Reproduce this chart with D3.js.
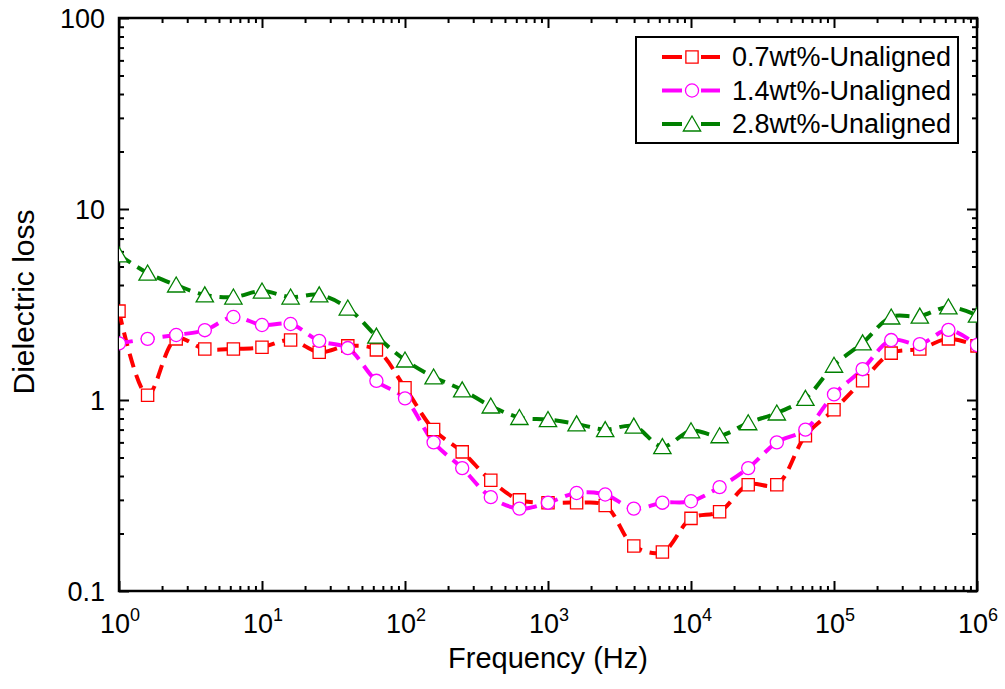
<!DOCTYPE html>
<html><head><meta charset="utf-8">
<script src="https://cdn.jsdelivr.net/npm/d3@7"></script>
<style>body{margin:0;background:#fff}svg{display:block}text{font-family:"Liberation Sans",Arial,sans-serif;fill:#000}</style>
</head><body>
<svg id="c" width="1005" height="689"></svg>
<script>
const freqExp = d3.range(0, 31).map(i => i * 0.2); // log10 of frequency
const seriesNames = ["0.7wt%-Unaligned", "1.4wt%-Unaligned", "2.8wt%-Unaligned"];
const red = [2.92,1.06,2.09,1.85,1.85,1.89,2.06,1.78,1.92,1.83,1.16,0.70,0.535,0.38,0.30,0.29,0.29,0.28,0.172,0.16,0.24,0.26,0.36,0.36,0.65,0.89,1.26,1.76,1.85,2.09,1.92];
const magenta = [1.98,2.09,2.19,2.32,2.72,2.47,2.50,2.04,1.87,1.26,1.02,0.60,0.44,0.31,0.27,0.29,0.326,0.32,0.27,0.29,0.295,0.35,0.44,0.60,0.70,1.07,1.45,2.06,1.96,2.33,1.94];
const green = [5.75,4.62,4.0,3.55,3.46,3.72,3.46,3.55,3.03,2.16,1.62,1.32,1.13,0.93,0.81,0.79,0.75,0.70,0.73,0.57,0.69,0.65,0.76,0.855,1.02,1.52,1.99,2.72,2.75,3.07,2.78];
const colors = ["#ff0000", "#ff00ff", "#008000"];
const symbols = ["square", "circle", "triangle"];
const xTickExps = [0,1,2,3,4,5,6];
const yTicks = [0.1, 1, 10, 100];
const xLabel = "Frequency (Hz)";
const yLabel = "Dielectric loss";

const svg = d3.select("#c");
const L = 119, R = 977, T = 18, B = 591;
const x = d3.scaleLog().domain([1, 1e6]).range([L, R]);
const y = d3.scaleLog().domain([0.1, 100]).range([B, T]);

// minor ticks
const xMinor = [], yMinor = [];
for (let e = 0; e < 6; e++) for (let k = 2; k <= 9; k++) xMinor.push(k * Math.pow(10, e));
for (let e = -1; e < 2; e++) for (let k = 2; k <= 9; k++) yMinor.push(k * Math.pow(10, e));
const xMajor = xTickExps.map(e => Math.pow(10, e));

const g = svg.append("g");
g.append("g").attr("transform", `translate(0,${B})`).call(d3.axisBottom(x).tickValues(xMajor).tickSize(-10).tickFormat(""));
g.append("g").attr("transform", `translate(0,${B})`).call(d3.axisBottom(x).tickValues(xMinor).tickSize(-5).tickFormat(""));
g.append("g").attr("transform", `translate(0,${T})`).call(d3.axisTop(x).tickValues(xMajor).tickSize(-10).tickFormat(""));
g.append("g").attr("transform", `translate(0,${T})`).call(d3.axisTop(x).tickValues(xMinor).tickSize(-5).tickFormat(""));
g.append("g").attr("transform", `translate(${L},0)`).call(d3.axisLeft(y).tickValues(yTicks).tickSize(-10).tickFormat(""));
g.append("g").attr("transform", `translate(${L},0)`).call(d3.axisLeft(y).tickValues(yMinor).tickSize(-5).tickFormat(""));
g.append("g").attr("transform", `translate(${R},0)`).call(d3.axisRight(y).tickValues(yTicks).tickSize(-10).tickFormat(""));
g.append("g").attr("transform", `translate(${R},0)`).call(d3.axisRight(y).tickValues(yMinor).tickSize(-5).tickFormat(""));
g.selectAll(".domain").remove();
g.selectAll(".tick line").attr("stroke", "#000").attr("stroke-width", 2);

// frame
svg.append("rect").attr("x", L).attr("y", T).attr("width", R - L).attr("height", B - T)
  .attr("fill", "none").attr("stroke", "#000").attr("stroke-width", 2.5);

// tick labels
xTickExps.forEach(e => {
  const t = svg.append("text").attr("x", x(Math.pow(10, e)) + 1).attr("y", 633).attr("text-anchor", "middle").attr("font-size", 27);
  t.append("tspan").text("10");
  t.append("tspan").attr("dy", -12).attr("font-size", 18).text(e);
});
yTicks.forEach(v => {
  svg.append("text").attr("x", 105).attr("y", y(v) + 10).attr("text-anchor", "end").attr("font-size", 27).text(v);
});
svg.append("text").attr("x", (L + R) / 2).attr("y", 668).attr("text-anchor", "middle").attr("font-size", 29).text(xLabel);
svg.append("text").attr("transform", `translate(34,302) rotate(-90)`).attr("text-anchor", "middle").attr("font-size", 30).text(yLabel);

// data
const data = [red, magenta, green];
const symType = { square: d3.symbolSquare, circle: d3.symbolCircle, triangle: d3.symbolTriangle };
const symSize = { square: 150, circle: 135, triangle: 130 };
const line = d3.line().x(d => x(Math.pow(10, d[0]))).y(d => y(d[1])).curve(d3.curveCatmullRom.alpha(0.5));
svg.append("clipPath").attr("id", "pc").append("rect").attr("x", L).attr("y", T).attr("width", R - L).attr("height", B - T);
const plot = svg.append("g").attr("clip-path", "url(#pc)");

data.forEach((vals, si) => {
  const pts = freqExp.map((e, i) => [e, vals[i]]);
  plot.append("path").attr("d", line(pts)).attr("fill", "none").attr("stroke", colors[si])
    .attr("stroke-width", 4).attr("stroke-dasharray", "14,8");
});
data.forEach((vals, si) => {
  const s = symbols[si];
  plot.selectAll(null).data(freqExp.map((e, i) => [e, vals[i]])).enter().append("path")
    .attr("transform", d => `translate(${x(Math.pow(10, d[0]))},${y(d[1]) + (s === "triangle" ? 2 : 0)})`)
    .attr("d", d3.symbol().type(symType[s]).size(symSize[s]))
    .attr("fill", "#fff").attr("stroke", colors[si]).attr("stroke-width", 1.3);
});

// legend
const lg = svg.append("g");
lg.append("rect").attr("x", 636).attr("y", 37).attr("width", 322).attr("height", 106)
  .attr("fill", "#fff").attr("stroke", "#000").attr("stroke-width", 2);
seriesNames.forEach((n, i) => {
  const cy = 57 + i * 33.5;
  lg.append("line").attr("x1", 662).attr("x2", 682).attr("y1", cy).attr("y2", cy).attr("stroke", colors[i]).attr("stroke-width", 4);
  lg.append("line").attr("x1", 701).attr("x2", 720).attr("y1", cy).attr("y2", cy).attr("stroke", colors[i]).attr("stroke-width", 4);
  lg.append("path").attr("transform", `translate(692,${cy + (symbols[i] === "triangle" ? 2 : 0)})`)
    .attr("d", d3.symbol().type(symType[symbols[i]]).size(symSize[symbols[i]]))
    .attr("fill", "#fff").attr("stroke", colors[i]).attr("stroke-width", 1.3);
  lg.append("text").attr("x", 732).attr("y", cy + 9).attr("font-size", 27).text(n);
});
</script>
</body></html>
